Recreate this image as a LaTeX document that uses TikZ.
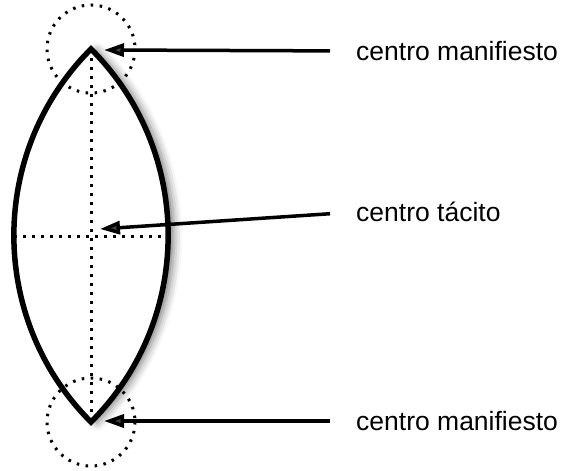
\documentclass[tikz,border=0pt]{standalone}
\usepackage{fontspec}
\setmainfont{Liberation Sans}
\usetikzlibrary{arrows.meta, positioning, shadows.blur}

\begin{document}
\begin{tikzpicture}[
  x=1pt, y=-1pt,
  lens/.style={line width=5.5pt, line join=miter, fill=white,
               blur shadow={shadow xshift=6pt, shadow yshift=-1pt,
                            shadow blur radius=8pt, shadow opacity=50}},
  dots/.style={line width=3pt, dash pattern=on 2.5pt off 6.5pt},
  label/.style={anchor=west, inner sep=0pt, font=\fontsize{26.5}{31}\selectfont},
  pointer/.style={line width=3.5pt, -{Triangle[length=20pt, width=13pt]}, shorten <=26pt},
]
  \useasboundingbox (0,0) rectangle (563,471);

  % tips and centre of the lens
  \coordinate (top)    at (91,49);
  \coordinate (bottom) at (91,422);
  \coordinate (west)   at (14,236);
  \coordinate (east)   at (166,236);

  \draw[lens] (top) to[bend left=45] (bottom) to[bend left=45] (top) -- cycle;

  \draw[dots] (top) -- (bottom);
  \draw[dots] (west) -- (east);
  \draw[dots] (top) circle (44);
  \draw[dots] (bottom) circle (44);

  \node[label] (lab1) at (356,51)  {centro manifiesto};
  \node[label] (lab2) at (356,212) {centro tácito};
  \node[label] (lab3) at (356,421) {centro manifiesto};

  \coordinate (hit1) at (104,50);
  \coordinate (hit2) at (100,229);
  \coordinate (hit3) at (104,421);

  \draw[pointer] (lab1.west) -- (hit1);
  \draw[pointer] (lab2.west) -- (hit2);
  \draw[pointer] (lab3.west) -- (hit3);
\end{tikzpicture}
\end{document}
